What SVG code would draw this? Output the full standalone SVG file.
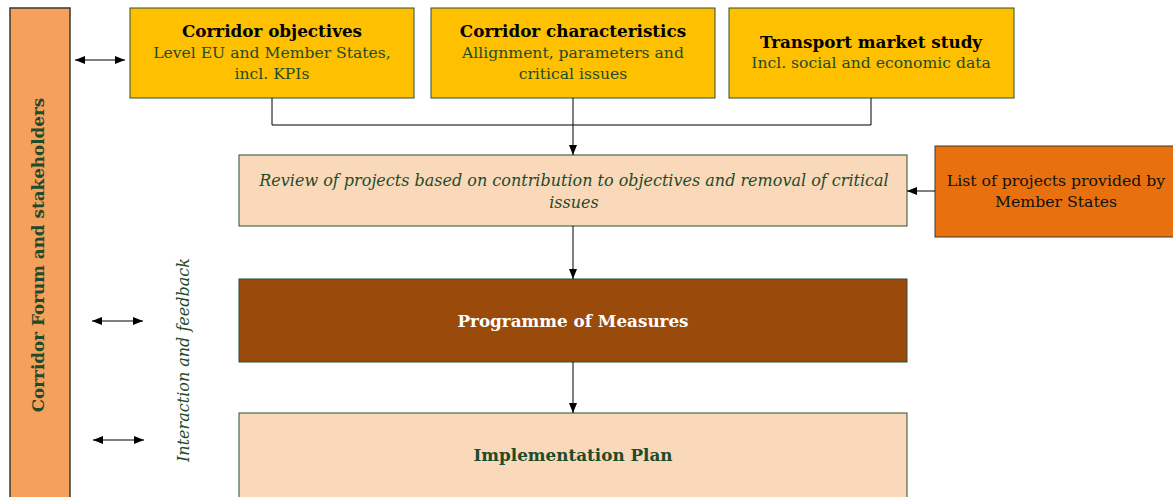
<svg xmlns="http://www.w3.org/2000/svg" width="1173" height="497" viewBox="0 0 1173 497">
<defs>
<marker id="ah" viewBox="0 0 10 10" refX="10" refY="5" markerWidth="10" markerHeight="10" markerUnits="userSpaceOnUse" orient="auto-start-reverse">
<path d="M0,1 L10,5 L0,9 Z" fill="#000"/>
</marker>
</defs>
<style>
.box{stroke:#2F4F2F;stroke-width:1}
.y{fill:#FFC000}
.p{fill:#FAD8BA}
.t{font-family:"DejaVu Serif","Liberation Serif",serif;text-anchor:middle}
.b{font-weight:bold;fill:#000}
.g{fill:#1E4B2A}
.c{stroke:#000;stroke-width:1;fill:none}
</style>
<rect width="1173" height="497" fill="#fff"/>
<g id="forum">
<rect x="10" y="8" width="60" height="495" fill="#F5A05C" stroke="#3a3a2a" stroke-width="1.5"/>
<text class="t g" font-weight="bold" font-size="16.8" transform="translate(44,255) rotate(-90)">Corridor Forum and stakeholders</text>
</g>
<g id="objectives">
<rect class="box y" x="130" y="8" width="284" height="90"/>
<text class="t b" x="272" y="37" font-size="16.8">Corridor objectives</text>
<text class="t g" x="272" y="58" font-size="15.6">Level EU and Member States,</text>
<text class="t g" x="272" y="79" font-size="15.6">incl. KPIs</text>
</g>
<g id="characteristics">
<rect class="box y" x="431" y="8" width="284" height="90"/>
<text class="t b" x="573" y="37" font-size="16.8">Corridor characteristics</text>
<text class="t g" x="573" y="58" font-size="15.6">Allignment, parameters and</text>
<text class="t g" x="573" y="79" font-size="15.6">critical issues</text>
</g>
<g id="market">
<rect class="box y" x="729" y="8" width="285" height="90"/>
<text class="t b" x="871" y="48" font-size="16.8">Transport market study</text>
<text class="t g" x="871" y="68" font-size="15.6">Incl. social and economic data</text>
</g>
<g id="review">
<rect class="box p" x="239" y="155" width="668" height="71"/>
<text class="t g" x="574" y="186" font-size="16" font-style="italic">Review of projects based on contribution to objectives and removal of critical</text>
<text class="t g" x="574" y="208" font-size="16" font-style="italic">issues</text>
</g>
<g id="list">
<rect x="935" y="146" width="240" height="91" fill="#E8700F" stroke="#3a3a2a" stroke-width="1"/>
<text class="t" x="1056" y="186" font-size="15.7" fill="#111">List of projects provided by</text>
<text class="t" x="1056" y="207" font-size="15.7" fill="#111">Member States</text>
</g>
<g id="programme">
<rect class="box" x="239" y="279" width="668" height="83" fill="#9A4A0A"/>
<text class="t" x="573" y="327" font-size="16.8" font-weight="bold" fill="#fff">Programme of Measures</text>
</g>
<g id="implementation">
<rect class="box p" x="239" y="413" width="668" height="90"/>
<text class="t g" x="573" y="461" font-size="16.8" font-weight="bold">Implementation Plan</text>
</g>
<g id="feedback-label">
<text class="t g" font-size="16" font-style="italic" transform="translate(189,360) rotate(-90)">Interaction and feedback</text>
</g>
<g id="connectors">
<path class="c" d="M272,98 V125 H871 V98"/>
<path class="c" d="M573,98 V155" marker-end="url(#ah)"/>
<path class="c" d="M935,191 H907" marker-end="url(#ah)"/>
<path class="c" d="M573,226 V279" marker-end="url(#ah)"/>
<path class="c" d="M573,362 V413" marker-end="url(#ah)"/>
<path class="c" d="M75,60 H125" marker-start="url(#ah)" marker-end="url(#ah)"/>
<path class="c" d="M92,321 H143" marker-start="url(#ah)" marker-end="url(#ah)"/>
<path class="c" d="M93,440 H144" marker-start="url(#ah)" marker-end="url(#ah)"/>
</g>
</svg>
